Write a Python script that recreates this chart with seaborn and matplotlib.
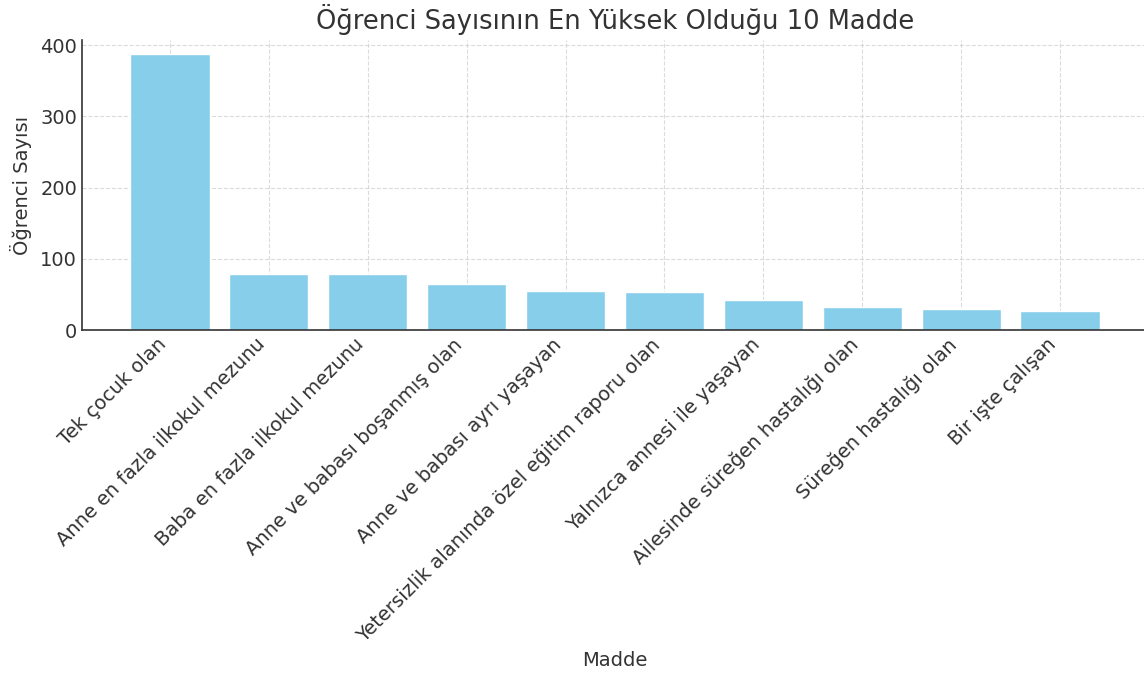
import matplotlib
matplotlib.use("Agg")
import matplotlib.pyplot as plt
import seaborn as sns
import pandas as pd

maddeler = [
    "Tek çocuk olan",
    "Anne en fazla ilkokul mezunu",
    "Baba en fazla ilkokul mezunu",
    "Anne ve babası boşanmış olan",
    "Anne ve babası ayrı yaşayan",
    "Yetersizlik alanında özel eğitim raporu olan",
    "Yalnızca annesi ile yaşayan",
    "Ailesinde süreğen hastalığı olan",
    "Süreğen hastalığı olan",
    "Bir işte çalışan",
]
ogrenci_sayisi = [388, 79, 78, 65, 55, 53, 42, 32, 29, 27]

df = pd.DataFrame({"Madde": maddeler, "Öğrenci Sayısı": ogrenci_sayisi})

sns.set_style("white")
plt.rcParams['font.family'] = ['DejaVu Sans']
text_color = '#333333'

fig, ax = plt.subplots(figsize=(11.44, 6.76), dpi=100)
fig.subplots_adjust(left=0.0717, right=1.0035, bottom=0.5118, top=0.9408)

sns.barplot(data=df, x="Madde", y="Öğrenci Sayısı", color="skyblue",
            saturation=1, width=0.8, ax=ax, zorder=2)
ax.set_xlim(-0.89, 9.89)

ax.grid(True, linestyle='--', color='#cccccc', alpha=0.7, linewidth=0.8, zorder=0)
ax.set_axisbelow(True)
sns.despine(ax=ax)
for s in ['left', 'bottom']:
    ax.spines[s].set_color('#333333')
    ax.spines[s].set_linewidth(1.2)

ax.tick_params(axis='both', direction='in', labelsize=14, colors=text_color,
               length=3.5, width=1)
ax.set_xticks(range(len(maddeler)))
ax.set_xticklabels(maddeler, rotation=45, ha='right')
ax.set_yticks([0, 100, 200, 300, 400])

ax.set_title("Öğrenci Sayısının En Yüksek Olduğu 10 Madde", fontsize=18.5,
             color=text_color, pad=8)
ax.set_xlabel("Madde", fontsize=14, color=text_color)
ax.set_ylabel("Öğrenci Sayısı", fontsize=14, color=text_color, labelpad=6)

fig.savefig("out.png", dpi=100)
